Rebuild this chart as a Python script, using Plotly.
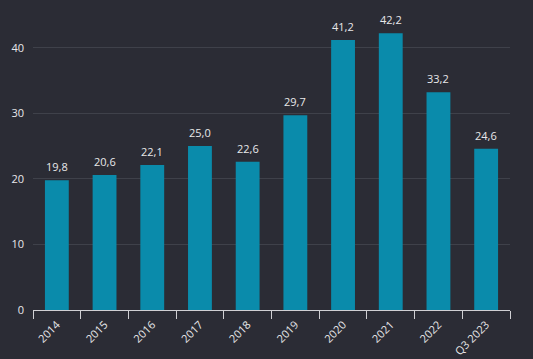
import plotly.graph_objects as go

categories = ["2014", "2015", "2016", "2017", "2018", "2019", "2020", "2021", "2022", "Q3 2023"]
values = [19.8, 20.6, 22.1, 25.0, 22.6, 29.7, 41.2, 42.2, 33.2, 24.6]
y_ticks = [0, 10, 20, 30, 40]

bg = "#2b2c35"
txt = "#e8e8ea"
fig = go.Figure(go.Bar(
    x=categories, y=values,
    marker=dict(color="#0a8bab", line=dict(width=0)),
    hoverinfo="skip",
))
for i, v in enumerate(values):
    fig.add_annotation(
        x=i, y=v, text=f"{v:.1f}".replace(".", ","), showarrow=False,
        yanchor="bottom", yshift=4,
        font=dict(color=txt, size=11, family="Open Sans"),
    )
fig.update_layout(
    width=533, height=359,
    paper_bgcolor=bg, plot_bgcolor=bg,
    margin=dict(l=33, r=23, t=15, b=49),
    bargap=0.5,
    showlegend=False,
    font=dict(family="Open Sans", color=txt, size=11),
)
fig.update_xaxes(
    type="category", categoryorder="array", categoryarray=categories,
    range=[-0.5, len(categories) - 0.5],
    tickangle=-45, tickson="boundaries",
    ticks="outside", ticklen=8, tickcolor="#d0d0d4", tickwidth=1,
    showline=True, linecolor="#d0d0d4", linewidth=1,
    showgrid=False, tickfont=dict(size=11, color=txt), automargin=False,
    ticklabelstandoff=3,
)
fig.update_yaxes(
    range=[0, 45], tickvals=y_ticks, showgrid=True, gridcolor="#3f414a",
    gridwidth=1, zeroline=False, showline=False,
    tickfont=dict(size=11, color=txt), ticklabelstandoff=8, automargin=False,
)
fig.write_html("out.html", config={"displayModeBar": False},
               post_script="document.body.style.margin='0';")
